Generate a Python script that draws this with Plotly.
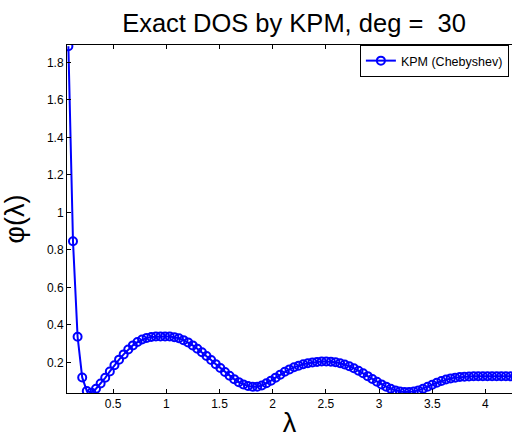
import plotly.graph_objects as go

# KPM density-of-states estimate on a uniform lambda grid
lam_start = 0.079
lam_step = 0.0433
phi = [
    1.886, 0.846, 0.337, 0.120, 0.048, 0.039, 0.060, 0.088, 0.118, 0.152,
    0.185, 0.215, 0.243, 0.269, 0.291, 0.309, 0.322, 0.331, 0.336, 0.338,
    0.339, 0.339, 0.338, 0.335, 0.329, 0.319, 0.307, 0.291, 0.273, 0.254,
    0.234, 0.213, 0.191, 0.170, 0.149, 0.129, 0.111, 0.095, 0.083, 0.074,
    0.070, 0.071, 0.077, 0.089, 0.103, 0.119, 0.135, 0.150, 0.163, 0.174,
    0.183, 0.190, 0.196, 0.200, 0.203, 0.205, 0.205, 0.204, 0.201, 0.196,
    0.189, 0.180, 0.169, 0.156, 0.142, 0.127, 0.112, 0.097, 0.083, 0.071,
    0.060, 0.051, 0.045, 0.042, 0.042, 0.045, 0.051, 0.060, 0.070, 0.081,
    0.092, 0.101, 0.109, 0.115, 0.119, 0.122, 0.124, 0.125, 0.126, 0.126,
    0.126, 0.126, 0.126, 0.126, 0.126, 0.126, 0.126, 0.126, 0.126,
]

x_ticks = [0.5, 1, 1.5, 2, 2.5, 3, 3.5, 4]
y_ticks = [0.2, 0.4, 0.6, 0.8, 1, 1.2, 1.4, 1.6, 1.8]

BLUE = "rgb(0,0,255)"
FONT = "Liberation Sans, Arial, Helvetica, sans-serif"

fig = go.Figure()
fig.add_trace(go.Scatter(
    y=phi, x0=lam_start, dx=lam_step,
    mode="lines+markers",
    name="KPM (Chebyshev)",
    line=dict(color=BLUE, width=2),
    marker=dict(symbol="circle-open", size=8, color=BLUE, line=dict(width=2, color=BLUE)),
))

fig.update_layout(
    width=512, height=438,
    margin=dict(l=67, r=0, t=45, b=45),
    paper_bgcolor="white", plot_bgcolor="white",
    font=dict(family=FONT, color="black"),
    title=dict(
        text="Exact DOS by KPM, deg =&nbsp;&nbsp;30",
        x=294 / 512, xref="container", xanchor="center",
        y=1 - 23 / 438, yref="container", yanchor="middle",
        font=dict(size=25.5, family=FONT, color="black"),
    ),
    showlegend=True,
    legend=dict(
        x=0.993, xanchor="right", y=1.0, yanchor="top",
        bgcolor="white", bordercolor="black", borderwidth=1,
        font=dict(size=12.5, family=FONT, color="black"),
        itemwidth=30, tracegroupgap=0,
    ),
)

fig.update_xaxes(
    range=[0.066, 4.25],
    tickvals=x_ticks,
    ticks="inside", ticklen=4, tickcolor="black",
    showline=True, linecolor="black", linewidth=1, mirror="ticks",
    showgrid=False, zeroline=False,
    tickfont=dict(size=12, family=FONT, color="black"),
    title=dict(text="λ", font=dict(size=27, family=FONT, color="black"), standoff=4),
)
fig.update_yaxes(
    range=[0.037, 1.893],
    tickvals=y_ticks,
    ticks="inside", ticklen=4, tickcolor="black",
    showline=True, linecolor="black", linewidth=1, mirror=False,
    showgrid=False, zeroline=False,
    tickfont=dict(size=12, family=FONT, color="black"),
    title=dict(text="φ(λ)", font=dict(size=27, family=FONT, color="black"), standoff=14),
)

fig.write_html("out.html")
